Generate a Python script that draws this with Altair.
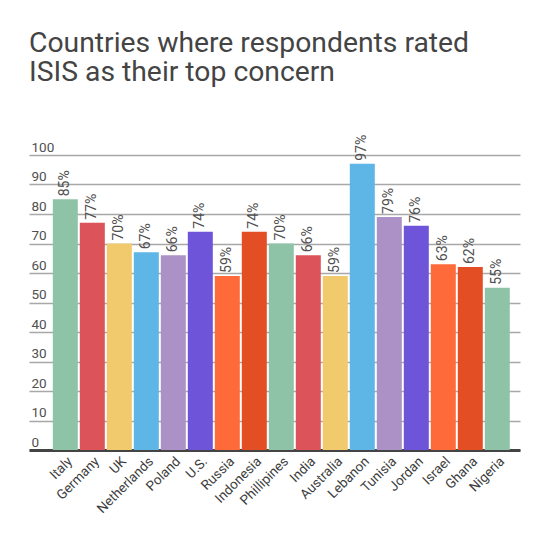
import altair as alt
import pandas as pd

countries = ["Italy", "Germany", "UK", "Netherlands", "Poland", "U.S.", "Russia",
             "Indonesia", "Phillipines", "India", "Australia", "Lebanon", "Tunisia",
             "Jordan", "Israel", "Ghana", "Nigeria"]
values = [85, 77, 70, 67, 66, 74, 59, 74, 70, 66, 59, 97, 79, 76, 63, 62, 55]
y_ticks = [0, 10, 20, 30, 40, 50, 60, 70, 80, 90, 100]

palette8 = ["#8EC3A7", "#DC5359", "#F0CA6D", "#5DB6E5", "#AC91C6",
            "#6E54D9", "#FF6A3A", "#E44E25"]
palette = (palette8 * 3)[:len(countries)]

df = pd.DataFrame({"country": countries, "value": values})

FONT = "Roboto"

x = alt.X("country:N", sort=countries, title=None,
          scale=alt.Scale(paddingInner=0.074, paddingOuter=0.63, align=0.7),
          axis=alt.Axis(labelAngle=-45, labelAlign="right", labelBaseline="top",
                        labelFont=FONT, labelFontSize=13.5, labelColor="#3d3d3d",
                        labelPadding=4, ticks=False, domainColor="#444444",
                        domainWidth=3, grid=False, labelOverlap=False))
y = alt.Y("value:Q", title=None,
          scale=alt.Scale(domain=[0, 100], nice=False),
          axis=alt.Axis(values=y_ticks, labelAlign="left", labelBaseline="alphabetic",
                        labelPadding=-2, labelOffset=-4, ticks=False, tickSize=0,
                        domain=False, grid=True, gridColor="#A8A8A8", gridWidth=1.4,
                        labelOverlap=False, labelFlush=False,
                        labelFont=FONT, labelFontSize=13.5, labelColor="#505050"))

bars = alt.Chart(df).mark_bar().encode(
    x=x, y=y,
    color=alt.Color("country:N", sort=countries,
                    scale=alt.Scale(domain=countries, range=palette), legend=None),
)

labels = alt.Chart(df).transform_calculate(
    label="datum.value + '%'"
).mark_text(angle=270, align="left", baseline="middle", dx=3,
            font=FONT, fontSize=14, color="#505050").encode(
    x=x,
    y=y,
    text="label:N",
)

chart = alt.layer(bars, labels).properties(
    width=491, height=295,
    title=alt.TitleParams(
        text=["Countries where respondents rated", "ISIS as their top concern"],
        anchor="start", font=FONT, fontSize=28.3, fontWeight="normal",
        color="#444444", lineHeight=28.5, offset=48, frame="group",
    ),
    autosize=alt.AutoSizeParams(type="none"),
    padding={"left": 21, "top": 147, "right": 10, "bottom": 90},
).configure_view(stroke=None)

chart.save("out.html", embed_options={"renderer": "svg", "actions": False})
